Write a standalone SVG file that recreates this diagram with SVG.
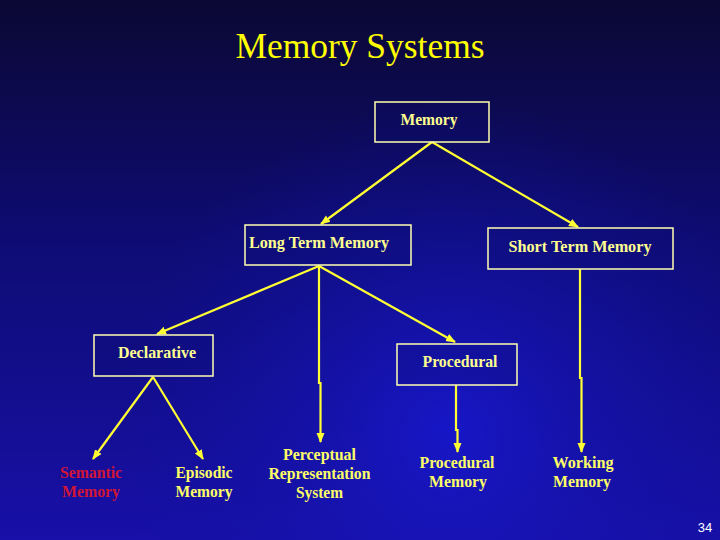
<svg xmlns="http://www.w3.org/2000/svg" width="720" height="540" viewBox="0 0 720 540">
  <defs>
    <linearGradient id="bg" x1="0" y1="0" x2="0" y2="1">
      <stop offset="0" stop-color="#0b0834"/>
      <stop offset="0.45" stop-color="#0e0c74"/>
      <stop offset="1" stop-color="#1810a8"/>
    </linearGradient>
    <radialGradient id="glow" cx="450" cy="430" r="330" gradientUnits="userSpaceOnUse">
      <stop offset="0" stop-color="#1818d0" stop-opacity="0.85"/>
      <stop offset="0.6" stop-color="#1414b0" stop-opacity="0.35"/>
      <stop offset="1" stop-color="#1010a0" stop-opacity="0"/>
    </radialGradient>
    <marker id="arr" markerUnits="userSpaceOnUse" markerWidth="10" markerHeight="10" viewBox="0 0 10 10" refX="9" refY="5" orient="auto">
      <path d="M0,1 L10,5 L0,9 Z" fill="#ffff33"/>
    </marker>
    <style>
      .box { fill: #0c0c70; fill-opacity: 0.25; stroke: #ffffb0; stroke-width: 1.5; }
      .lbl { font-family: "Liberation Serif", "Times New Roman", serif; font-weight: bold; font-size: 17px; fill: #ffff90; text-anchor: middle; }
      .leaf { font-family: "Liberation Serif", "Times New Roman", serif; font-weight: bold; font-size: 17px; fill: #ffff66; text-anchor: middle; }
      .red { fill: #d01535; }
      .conn { fill: none; stroke: #ffff33; stroke-width: 2.2; marker-end: url(#arr); }
    </style>
  </defs>
  <rect x="0" y="0" width="720" height="540" fill="url(#bg)"/>
  <rect x="0" y="0" width="720" height="540" fill="url(#glow)"/>

  <text x="360" y="58" font-family="Liberation Serif, Times New Roman, serif" font-size="35" fill="#ffff00" text-anchor="middle" textLength="249" lengthAdjust="spacingAndGlyphs">Memory Systems</text>

  <g id="connectors">
    <line class="conn" x1="432" y1="142" x2="321" y2="224"/>
    <line class="conn" x1="432" y1="142" x2="578" y2="227"/>
    <line class="conn" x1="319" y1="266" x2="157" y2="334"/>
    <line class="conn" x1="319" y1="266" x2="455" y2="342"/>
    <polyline class="conn" points="319,266 319,383 320.5,383 320.5,442"/>
    <line class="conn" x1="153" y1="377" x2="93" y2="459"/>
    <line class="conn" x1="153" y1="377" x2="203" y2="459"/>
    <polyline class="conn" points="456,385 456,430 457.5,430 457.5,452"/>
    <polyline class="conn" points="580,269 580,378 581.5,378 581.5,452"/>
  </g>

  <g id="memory">
    <rect class="box" x="375" y="102" width="114" height="40"/>
    <text class="lbl" x="429" y="125" textLength="57" lengthAdjust="spacingAndGlyphs">Memory</text>
  </g>
  <g id="long-term-memory">
    <rect class="box" x="245" y="225" width="166" height="40"/>
    <text class="lbl" x="319" y="248" textLength="140" lengthAdjust="spacingAndGlyphs">Long Term Memory</text>
  </g>
  <g id="short-term-memory">
    <rect class="box" x="488" y="228" width="185" height="41"/>
    <text class="lbl" x="580" y="252" textLength="143" lengthAdjust="spacingAndGlyphs">Short Term Memory</text>
  </g>
  <g id="declarative">
    <rect class="box" x="94" y="335" width="119" height="41"/>
    <text class="lbl" x="157" y="358" textLength="78" lengthAdjust="spacingAndGlyphs">Declarative</text>
  </g>
  <g id="procedural">
    <rect class="box" x="397" y="344" width="120" height="41"/>
    <text class="lbl" x="460" y="367" textLength="75" lengthAdjust="spacingAndGlyphs">Procedural</text>
  </g>
  <g id="semantic-memory">
    <text class="leaf red" x="91" y="478" textLength="62" lengthAdjust="spacingAndGlyphs">Semantic</text>
    <text class="leaf red" x="91" y="497" textLength="58" lengthAdjust="spacingAndGlyphs">Memory</text>
  </g>
  <g id="episodic-memory">
    <text class="leaf" x="204" y="478" textLength="57" lengthAdjust="spacingAndGlyphs">Episodic</text>
    <text class="leaf" x="204" y="497" textLength="57" lengthAdjust="spacingAndGlyphs">Memory</text>
  </g>
  <g id="perceptual-representation-system">
    <text class="leaf" x="319.5" y="460" textLength="73" lengthAdjust="spacingAndGlyphs">Perceptual</text>
    <text class="leaf" x="319.5" y="479" textLength="102" lengthAdjust="spacingAndGlyphs">Representation</text>
    <text class="leaf" x="319.5" y="498" textLength="47" lengthAdjust="spacingAndGlyphs">System</text>
  </g>
  <g id="procedural-memory">
    <text class="leaf" x="457" y="468" textLength="75" lengthAdjust="spacingAndGlyphs">Procedural</text>
    <text class="leaf" x="458" y="487" textLength="58" lengthAdjust="spacingAndGlyphs">Memory</text>
  </g>
  <g id="working-memory">
    <text class="leaf" x="583" y="468" textLength="61" lengthAdjust="spacingAndGlyphs">Working</text>
    <text class="leaf" x="582" y="487" textLength="58" lengthAdjust="spacingAndGlyphs">Memory</text>
  </g>

  <text x="705" y="532" font-family="Liberation Sans, Arial, sans-serif" font-size="13" fill="#ffffff" text-anchor="middle">34</text>
</svg>
